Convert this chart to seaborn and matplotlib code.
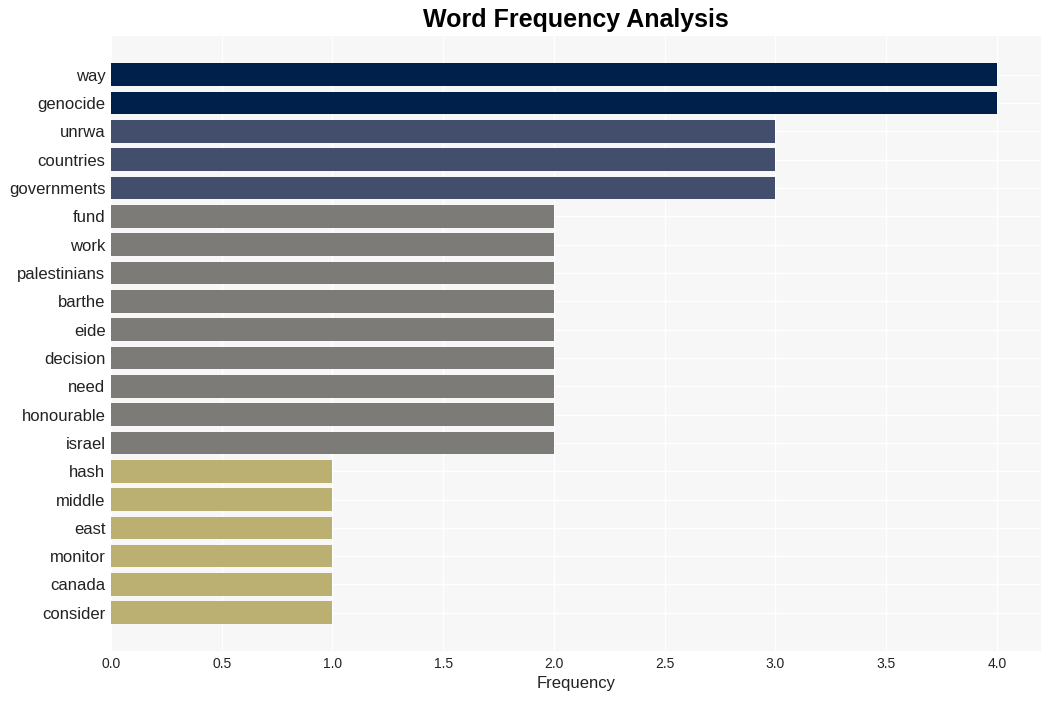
import matplotlib
matplotlib.use("Agg")
import matplotlib.pyplot as plt
import seaborn as sns
import pandas as pd

words = ["way", "genocide", "unrwa", "countries", "governments", "fund", "work",
         "palestinians", "barthe", "eide", "decision", "need", "honourable", "israel",
         "hash", "middle", "east", "monitor", "canada", "consider"]
freqs = [4, 4, 3, 3, 3, 2, 2, 2, 2, 2, 2, 2, 2, 2, 1, 1, 1, 1, 1, 1]
level_colors = {4: "#00204c", 3: "#434e6c", 2: "#7c7b78", 1: "#bbaf71"}

df = pd.DataFrame({"word": words, "freq": freqs})

sns.set_theme(style="whitegrid")
plt.rcParams['font.family'] = ['Liberation Sans', 'DejaVu Sans']

fig = plt.figure(figsize=(10.51, 7.01), dpi=100)
ax = fig.add_axes([0.1056, 0.0713, 0.885, 0.8773])
ax.set_facecolor("#f7f7f7")

sns.barplot(data=df, x="freq", y="word", hue="freq", palette=level_colors,
            dodge=False, legend=False, width=0.8, ax=ax, saturation=1,
            linewidth=0, edgecolor="none")

ax.set_xlim(0, 4.2)
ax.set_ylim(20.35, -1.37)
ax.grid(True, color="white", linewidth=1)
ax.set_axisbelow(True)
for s in ax.spines.values():
    s.set_visible(False)
ax.set_xticks([0, 0.5, 1.0, 1.5, 2.0, 2.5, 3.0, 3.5, 4.0])
ax.set_xticklabels(["0.0", "0.5", "1.0", "1.5", "2.0", "2.5", "3.0", "3.5", "4.0"])
ax.tick_params(axis="x", labelsize=10, colors="#222222", pad=4, length=0)
ax.tick_params(axis="y", labelsize=12, colors="#222222", pad=4, length=0)
ax.set_xlabel("Frequency", fontsize=12, color="#222222")
ax.set_ylabel("")
fig.text(0.5475, 0.971, "Word Frequency Analysis", ha="center", va="center",
         fontsize=18, fontweight="bold", color="black")

fig.savefig("out.png", dpi=100, facecolor="white")
